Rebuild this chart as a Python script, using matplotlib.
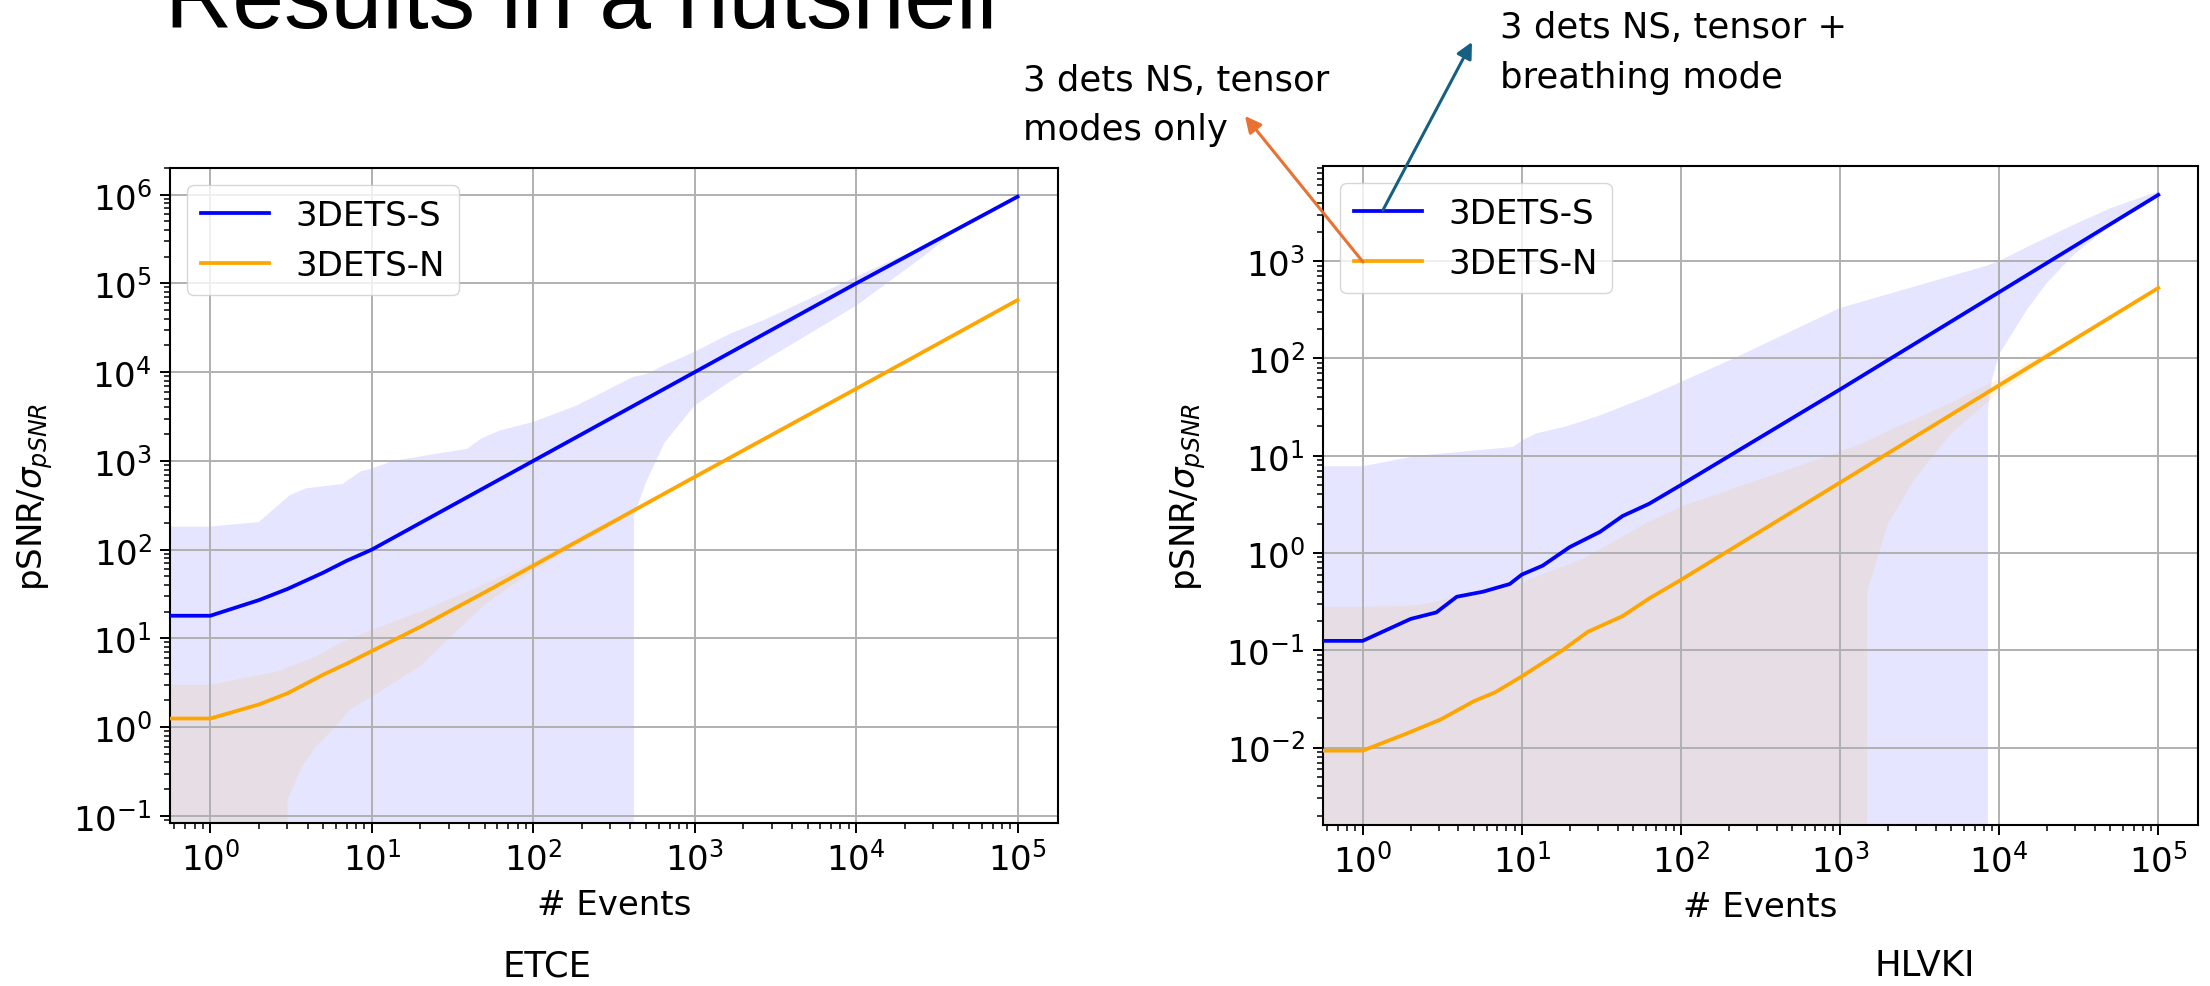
import numpy as np
import matplotlib.pyplot as plt
from matplotlib.patches import FancyArrowPatch

# ETCE network
events_s_etce = [0, 1, 2, 3, 5, 7, 10, 20, 50, 100, 1000, 10000, 100000]
snr_s_etce = [18, 18, 27, 36, 55, 75, 100, 200, 500, 1000, 10000, 100000, 950000]
events_n_etce = [0, 1, 2, 3, 5, 7, 10, 20, 50, 100, 1000, 10000, 100000]
snr_n_etce = [1.25, 1.25, 1.8, 2.4, 3.9, 5.2, 7.2, 13.5, 33, 66, 660, 6500, 65000]

band_s_etce_x = [0, 1, 2, 3.1, 3.9, 6.6, 8.5, 10, 13.5, 39, 48, 62, 100, 185, 419, 420, 500, 650, 1000,
                 1650, 2800, 10000, 25000, 40000, 100000]
band_s_etce_hi = [180, 182, 205, 410, 490, 550, 760, 820, 1000, 1370, 1800, 2200, 2750, 4200, 8900, 8900,
                  9500, 12000, 17000, 27000, 40000, 119000, 255000, 390000, 960000]
band_s_etce_lo = [0, 0, 0, 0, 0, 0, 0, 0, 0, 0, 0, 0, 0, 0, 0, 240, 575, 1600, 4200,
                  7800, 14000, 56000, 190000, 370000, 940000]

band_n_etce_x = [0, 1, 2.7, 2.95, 3, 3.7, 4.5, 6, 7.4, 10, 20, 50, 100, 1000, 100000]
band_n_etce_hi = [3.0, 3.0, 4.3, 4.6, 4.7, 5.4, 6.3, 8.4, 10, 12.5, 20, 41, 73, 680, 65500]
band_n_etce_lo = [0, 0, 0, 0, 0.15, 0.36, 0.6, 1.03, 1.6, 2.2, 4.9, 24, 58, 640, 64500]

# HLVKI network
events_s_hlvki = [0, 1, 2, 2.9, 3.9, 5.7, 8.4, 10, 13.5, 20, 31, 43, 63, 100, 1000, 10000, 100000]
snr_s_hlvki = [0.125, 0.125, 0.21, 0.245, 0.355, 0.40, 0.48, 0.6, 0.74, 1.15, 1.65, 2.4, 3.2, 5.0,
               48, 480, 4800]
events_n_hlvki = [0, 1, 1.9, 3.1, 5, 6.8, 10, 18, 26, 43, 63, 100, 1000, 10000, 100000]
snr_n_hlvki = [0.0093, 0.0093, 0.014, 0.0195, 0.030, 0.037, 0.054, 0.10, 0.155, 0.225, 0.34, 0.53,
               5.3, 53, 530]

band_s_hlvki_x = [0, 1, 2.2, 8.8, 10, 12.4, 19, 31, 63, 215, 1000, 8400, 8500, 9000, 10000, 15000,
                  20000, 30000, 50000, 100000]
band_s_hlvki_hi = [7.8, 7.8, 10, 12.3, 14.3, 17, 20, 26, 41, 100, 330, 900, 905, 940, 1000, 1400,
                   1750, 2400, 3500, 5200]
band_s_hlvki_lo = [0, 0, 0, 0, 0, 0, 0, 0, 0, 0, 0, 0, 30, 60, 110, 320, 600, 1200, 2300, 4600]

band_n_hlvki_x = [0, 1, 2.2, 5.7, 10, 24, 63, 100, 1000, 1450, 1480, 2000, 3000, 5000, 10000, 30000,
                  100000]
band_n_hlvki_hi = [0.28, 0.28, 0.29, 0.40, 0.5, 0.87, 2.1, 3.0, 11, 14, 14.2, 18, 24, 35, 62, 170, 545]
band_n_hlvki_lo = [0, 0, 0, 0, 0, 0, 0, 0, 0, 0, 0.4, 2, 6, 17, 45, 155, 520]

FS = 24.5

fig = plt.figure(figsize=(22.1, 9.87), dpi=100)
ax1 = fig.add_axes([0.0769, 0.1651, 0.4018, 0.6637])
ax2 = fig.add_axes([0.5986, 0.1631, 0.3960, 0.6677])


def panel(ax, ev_s, s, ev_n, n, bs, bn, ylim):
    ax.fill_between(bs[0], bs[1], bs[2], color='blue', alpha=0.1, lw=0)
    ax.fill_between(bn[0], bn[1], bn[2], color='orange', alpha=0.1, lw=0)
    ax.plot(ev_s, s, color='blue', lw=2.7, label='3DETS-S', zorder=3)
    ax.plot(ev_n, n, color='orange', lw=2.7, label='3DETS-N', zorder=3)
    ax.set_xscale('log')
    ax.set_yscale('log')
    ax.set_xlim(10 ** -0.25, 10 ** 5.25)
    ax.set_ylim(*ylim)
    ax.grid(True, which='major', color='#b0b0b0', lw=1.4)
    ax.tick_params(which='major', labelsize=FS, length=7, width=1.4, pad=6)
    ax.tick_params(which='minor', length=4, width=1.1)
    for sp in ax.spines.values():
        sp.set_linewidth(1.5)
    ax.set_xlabel('# Events', fontsize=FS, labelpad=8)
    ax.set_ylabel(r'pSNR/$\sigma_{pSNR}$', fontsize=FS, labelpad=13)
    ax.legend(loc='upper left', fontsize=FS)


panel(ax1, events_s_etce, snr_s_etce, events_n_etce, snr_n_etce,
      (band_s_etce_x, band_s_etce_lo, band_s_etce_hi),
      (band_n_etce_x, band_n_etce_lo, band_n_etce_hi), (0.083, 2.0e6))
panel(ax2, events_s_hlvki, snr_s_hlvki, events_n_hlvki, snr_n_hlvki,
      (band_s_hlvki_x, band_s_hlvki_lo, band_s_hlvki_hi),
      (band_n_hlvki_x, band_n_hlvki_lo, band_n_hlvki_hi), (1.6e-3, 9.5e3))

# slide title, mostly off the top edge
fig.text(0.0747, 0.9716, 'Results in a nutshell', fontsize=67, family='Liberation Sans',
         va='baseline')

note_font = dict(fontsize=25.5, family='DejaVu Sans', va='baseline')
fig.text(0.4629, 0.9078, '3 dets NS, tensor', **note_font)
fig.text(0.4629, 0.8582, 'modes only', **note_font)
fig.text(0.6787, 0.9615, '3 dets NS, tensor +', **note_font)
fig.text(0.6787, 0.9108, 'breathing mode', **note_font)

fig.text(547 / 2210, 0.011, 'ETCE', fontsize=25.5, family='DejaVu Sans', ha='center', va='baseline')
fig.text(1925 / 2210, 0.011, 'HLVKI', fontsize=25.5, family='DejaVu Sans', ha='center', va='baseline')

# arrows from the legend handles up to the notes
W, H = 2210, 987
arrows = [((1363, 263), (1245, 117), '#E97132'),
          ((1383, 211), (1472, 43), '#156082')]
for (x0, y0), (x1, y1), c in arrows:
    a = FancyArrowPatch((x0 / W, 1 - y0 / H), (x1 / W, 1 - y1 / H), transform=fig.transFigure,
                        arrowstyle='-|>', mutation_scale=24, lw=2.2, color=c, zorder=10,
                        shrinkA=0, shrinkB=0)
    fig.add_artist(a)

fig.savefig('out.png', dpi=100)
